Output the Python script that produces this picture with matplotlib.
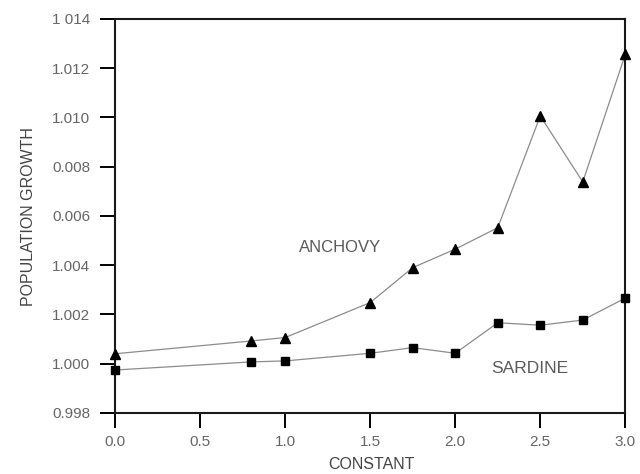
import matplotlib
matplotlib.use("Agg")
import matplotlib.pyplot as plt

constant = [0.0, 0.8, 1.0, 1.5, 1.75, 2.0, 2.25, 2.5, 2.75, 3.0]
anchovy = [1.0004, 1.00092, 1.00106, 1.00248, 1.0039, 1.00465, 1.00552, 1.01006, 1.00738, 1.01256]
sardine = [0.99974, 1.00007, 1.00011, 1.00042, 1.00065, 1.00042, 1.00166, 1.00156, 1.00177, 1.00266]

x_ticks = [0.0, 0.5, 1.0, 1.5, 2.0, 2.5, 3.0]
x_tick_labels = ["0.0", "0.5", "1.0", "1.5", "2.0", "2.5", "3.0"]
y_ticks = [0.998, 1.000, 1.002, 1.004, 1.006, 1.008, 1.010, 1.012, 1.014]
y_tick_labels = ["0.998", "1.000", "1.002", "1.004", "0.006", "0.008", "1.010", "1.012", "1 014"]

plt.rcParams["font.family"] = ["Liberation Sans", "DejaVu Sans"]

fig = plt.figure(figsize=(6.4, 4.74), dpi=100)
ax = fig.add_axes([0.18, 0.129, 0.797, 0.831])

ax.plot(constant, anchovy, color="#8c8c8c", lw=0.9, marker="^", ms=7,
        mfc="black", mec="black", clip_on=False, zorder=3)
ax.plot(constant, sardine, color="#8c8c8c", lw=0.9, marker="s", ms=6,
        mfc="black", mec="black", clip_on=False, zorder=3)

ax.text(1.32, 1.0047, "ANCHOVY", ha="center", va="center", fontsize=12, color="#5a5a5a")
ax.text(2.44, 0.99979, "SARDINE", ha="center", va="center", fontsize=12.5, color="#5a5a5a")

ax.set_xlim(0, 3.0)
ax.set_ylim(0.998, 1.014)
ax.set_xticks(x_ticks)
ax.set_xticklabels(x_tick_labels)
ax.set_yticks(y_ticks)
ax.set_yticklabels(y_tick_labels)
ax.tick_params(direction="out", length=11, width=1.4, labelsize=11, labelcolor="#666666")
ax.tick_params(axis="y", pad=7)
ax.tick_params(axis="x", pad=5)

for spine in ax.spines.values():
    spine.set_linewidth(1.5)
    spine.set_color("#1a1a1a")

ax.set_xlabel("CONSTANT", fontsize=11.5, color="#444444")
ax.set_ylabel("POPULATION GROWTH", fontsize=11.5, color="#444444")
ax.xaxis.set_label_coords(0.502, -0.112)
ax.yaxis.set_label_coords(-0.155, 0.499)

fig.savefig("out.png", dpi=100)
